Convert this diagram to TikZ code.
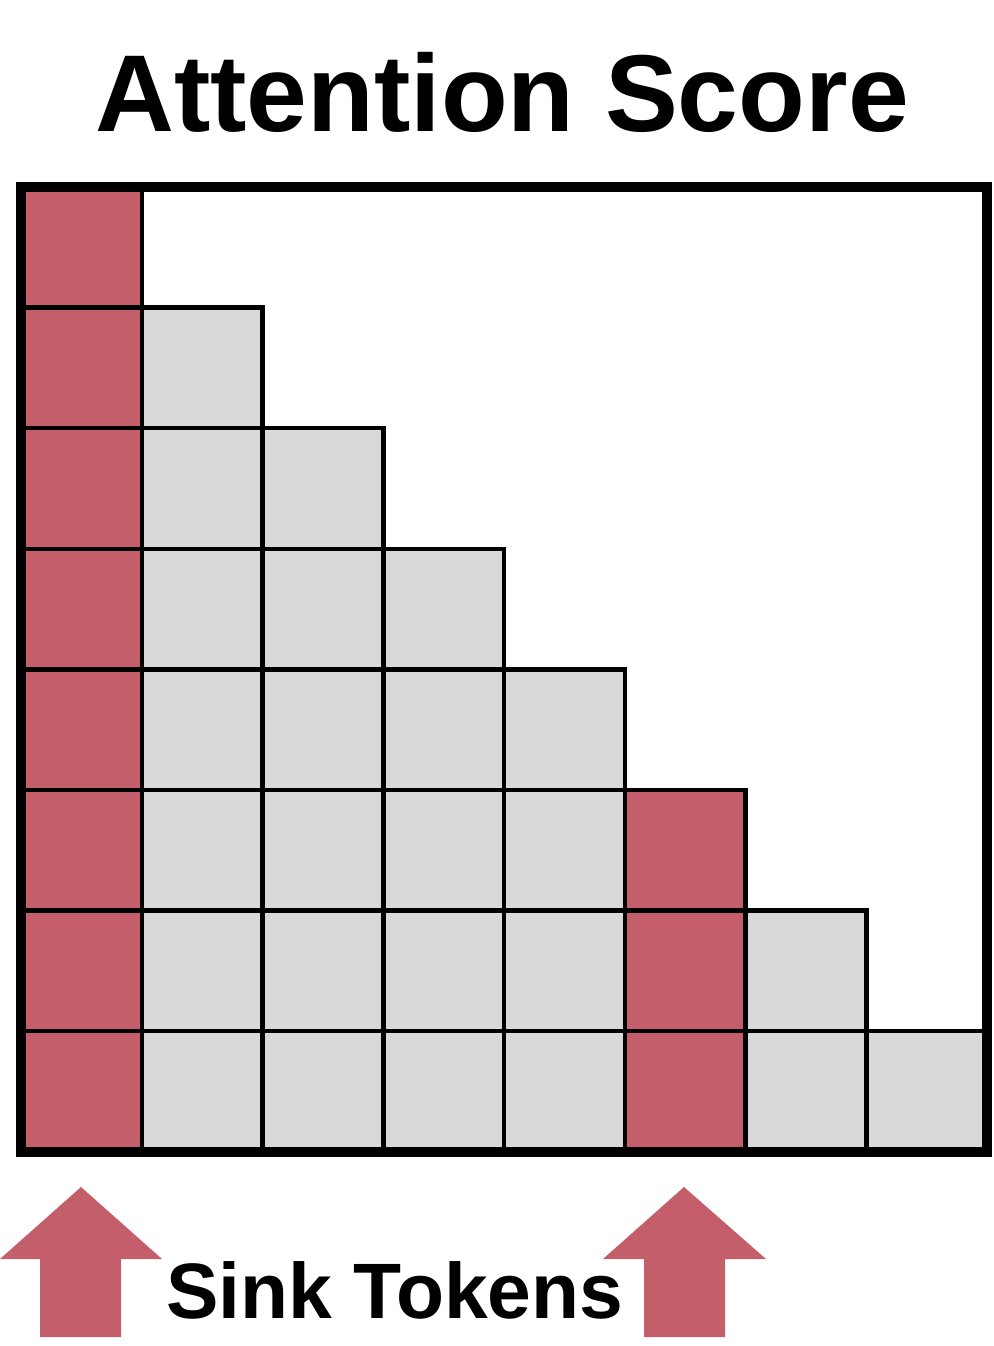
\documentclass[tikz,border=0pt]{standalone}
\usepackage{fontspec}
\setmainfont{Liberation Sans}
\definecolor{sinkred}{HTML}{C45E6A}
\definecolor{cellgray}{HTML}{D9D9D9}
\begin{document}
\begin{tikzpicture}[x=1pt,y=-1pt,
  cellbox/.style={draw=black,line width=4.5pt},
  framebox/.style={draw=black,line width=10.5pt},
  blockarrow/.style={fill=sinkred,draw=none},
  titletext/.style={font=\fontsize{109.3}{110}\selectfont\bfseries,anchor=base,inner sep=0pt},
  labeltext/.style={font=\fontsize{78.6}{79}\selectfont\bfseries,anchor=base west,inner sep=0pt}]
\useasboundingbox (0,0) rectangle (993,1346);
\def\gx{21}\def\gy{187}\def\cw{120.75}\def\ch{120.6}
\foreach \r in {0,...,7}{
  \foreach \c in {0,...,\r}{
    \pgfmathsetmacro{\isred}{(\c==0) || (\c==5 && \r>=5) ? 1 : 0}
    \ifdim\isred pt>0.5pt
      \def\fc{sinkred}
    \else
      \def\fc{cellgray}
    \fi
    \filldraw[cellbox,fill=\fc] ({\gx+\c*\cw},{\gy+\r*\ch}) rectangle ({\gx+(\c+1)*\cw},{\gy+(\r+1)*\ch});
  }
}
\draw[framebox] (\gx,\gy) rectangle ({\gx+8*\cw},{\gy+8*\ch});
\node[titletext] (title) at (502,131) {Attention Score};
\node[labeltext] (sink) at (166,1318) {Sink Tokens};
\fill[blockarrow] (81,1187) -- (162,1259) -- (121,1259) -- (121,1337) -- (40,1337) -- (40,1259) -- (0,1259) -- cycle;
\fill[blockarrow] (684,1187) -- (766,1259) -- (725,1259) -- (725,1337) -- (644,1337) -- (644,1259) -- (603,1259) -- cycle;
\end{tikzpicture}
\end{document}
